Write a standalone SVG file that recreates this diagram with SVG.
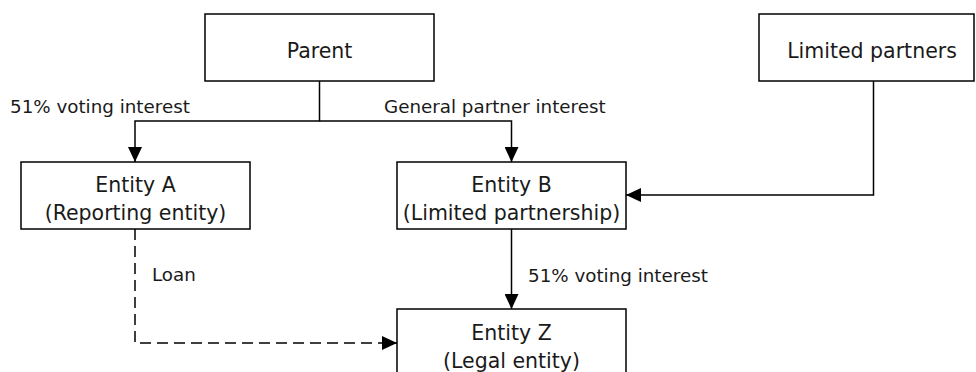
<svg xmlns="http://www.w3.org/2000/svg" width="976" height="372" viewBox="0 0 976 372">
<style>
.box{fill:#fff;stroke:#000;stroke-width:1.5}
.t{font-family:"DejaVu Sans",sans-serif;font-size:20.5px;fill:#1a1a1a;text-anchor:middle}
.l{font-family:"DejaVu Sans",sans-serif;font-size:18.3px;fill:#1a1a1a}
.c{fill:none;stroke:#000;stroke-width:1.5}
.d{stroke-dasharray:11 6}
</style>
<defs>
<marker id="ah" markerUnits="userSpaceOnUse" viewBox="0 0 15 14" refX="15" refY="7" markerWidth="15" markerHeight="14" orient="auto">
<path d="M0,0 L15,7 L0,14 z" fill="#000"/>
</marker>
</defs>
<g id="connectors">
<path class="c" d="M319.5,81 V121 H135 V162" marker-end="url(#ah)"/>
<path class="c" d="M319.5,121 H511.5 V162" marker-end="url(#ah)"/>
<path class="c" d="M873.5,81 V195 H626" marker-end="url(#ah)"/>
<path class="c" d="M511.5,229 V309" marker-end="url(#ah)"/>
<path class="c d" d="M135,229 V343 H397" marker-end="url(#ah)"/>
<text class="l" x="10" y="113">51% voting interest</text>
<text class="l" x="384" y="113">General partner interest</text>
<text class="l" x="152" y="281">Loan</text>
<text class="l" x="528" y="282">51% voting interest</text>
</g>
<g id="parent">
<rect class="box" x="205" y="14" width="229" height="67"/>
<text class="t" x="319.5" y="58">Parent</text>
</g>
<g id="limited-partners">
<rect class="box" x="759" y="14" width="215" height="67"/>
<text class="t" x="872" y="58">Limited partners</text>
</g>
<g id="entity-a">
<rect class="box" x="21" y="162" width="229" height="67"/>
<text class="t" x="135.5" y="191.5">Entity A</text>
<text class="t" x="135.5" y="219.5">(Reporting entity)</text>
</g>
<g id="entity-b">
<rect class="box" x="397" y="162" width="229" height="67"/>
<text class="t" x="511.5" y="191.5">Entity B</text>
<text class="t" x="511.5" y="219.5">(Limited partnership)</text>
</g>
<g id="entity-z">
<rect class="box" x="397" y="309" width="229" height="80"/>
<text class="t" x="511.5" y="340">Entity Z</text>
<text class="t" x="511.5" y="368">(Legal entity)</text>
</g>
</svg>
